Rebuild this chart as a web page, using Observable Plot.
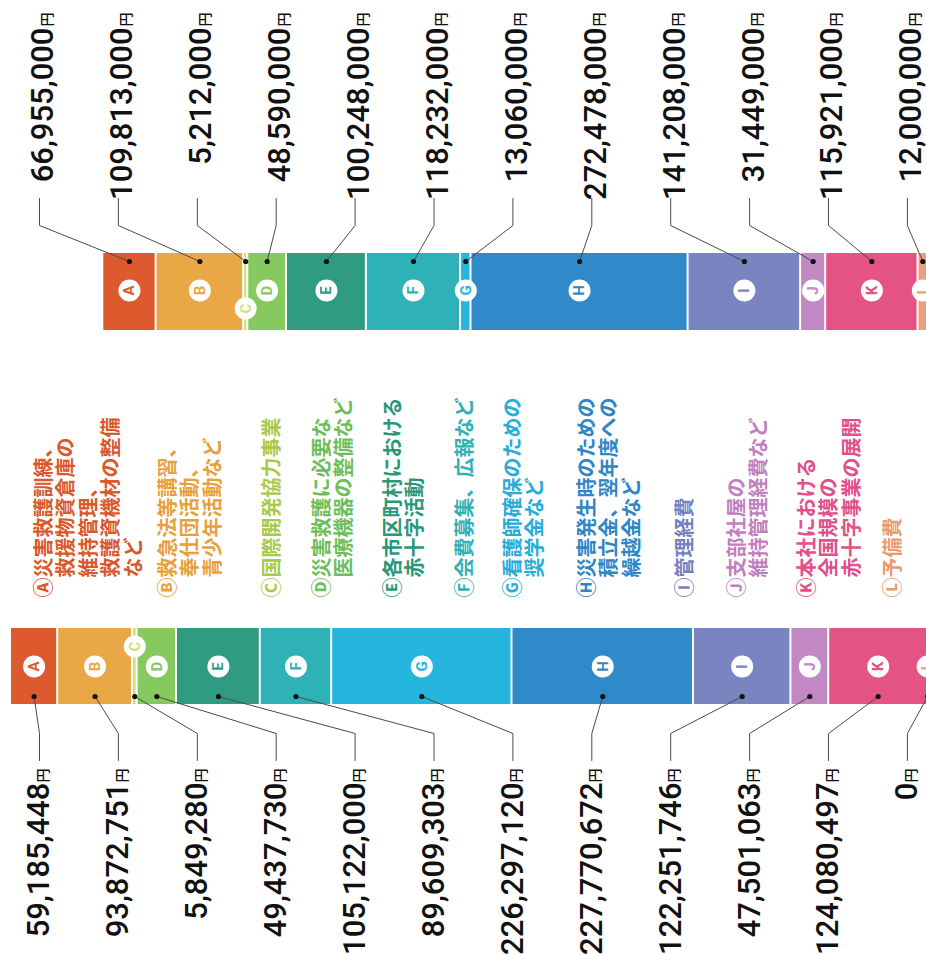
<!DOCTYPE html>
<html><head><meta charset="utf-8">
<script src="https://cdn.jsdelivr.net/npm/d3@7"></script>
<script src="https://cdn.jsdelivr.net/npm/@observablehq/plot@0.6"></script>
<style>html,body{margin:0;padding:0;background:#fff;} svg{display:block}</style>
</head><body><div id="chart"></div>
<script>
// ---- data ----
const letters = ["A","B","C","D","E","F","G","H","I","J","K","L"];
const budget = [66955000, 109813000, 5212000, 48590000, 100248000, 118232000, 13060000, 272478000, 141208000, 31449000, 115921000, 12000000];
const actual = [59185448, 93872751, 5849280, 49437730, 105122000, 89609303, 226297120, 227770672, 122251746, 47501063, 124080497, 0];
const descriptions = [
  ["災害救護訓練、", "救援物資倉庫の", "維持管理、", "救護資機材の整備", "など"],
  ["救急法等講習、", "奉仕団活動、", "青少年活動など"],
  ["国際開発協力事業"],
  ["災害救護に必要な", "医療機器の整備など"],
  ["各市区町村における", "赤十字活動"],
  ["会費募集、広報など"],
  ["看護師確保のための", "奨学金など"],
  ["災害発生時のための", "積立金、翌年度への", "繰越金など"],
  ["管理経費"],
  ["支部社屋の", "維持管理経費など"],
  ["本社における", "全国規模の", "赤十字事業の展開"],
  ["予備費"]
];
const barColors = ["#dc5a2e","#eaa745","#cfe07a","#86c95e","#2f9b80","#2fb1b8","#25b6de","#3089c8","#7a84c0","#c288c4","#e35484","#ec9f7c"];
const textColors = ["#d9582c","#e8a03a","#a9c94a","#6cbe5a","#2b977a","#33b0b6","#28acd8","#2e86c6","#7680bf","#c27fc0","#e0508a","#ea9a6e"];

// ---- layout (pixels) ----
const W = 926, H = 954;
const yenPerPx = 1.255e6;
const barStartPx = 10;
const pxToX = px => (px - barStartPx) * yenPerPx;
const layout = {
  top:    {y1: 253, y2: 330, dotY: 261, circleY: 290, elbowY: 225, lineEndY: 198, yenY: 12,  numY: 27,  labelDx: 4, cShift: 18},
  bottom: {y1: 628, y2: 704, dotY: 696, circleY: 666, elbowY: 733, lineEndY: 760, yenY: 768, numY: 782, labelDx: 0, cShift: -20},
  slot0: 39, slotStep: 78.9,
  legendX: [44, 168, 272, 322, 393, 465, 513, 587, 685, 737, 807, 893],
  legendStep: 22.5, legendY: 597
};

// ---- derived tables ----
const end = Math.max(d3.sum(budget), d3.sum(actual));
function segs(values, row) {
  let cum = end - d3.sum(values);
  return values.map((v, i) => {
    const x1 = cum; cum += v;
    return {row, i, letter: letters[i], value: v, x1, x2: cum, mid: (x1 + cum) / 2, color: barColors[i]};
  });
}
const segments = [...segs(budget, "top"), ...segs(actual, "bottom")];
const slotX = i => pxToX(layout.slot0 + layout.slotStep * i);

const leaderPts = [];
for (const s of segments) {
  const L = layout[s.row], key = s.row + s.letter;
  const pts = s.row === "top"
    ? [[slotX(s.i), L.lineEndY], [slotX(s.i), L.elbowY], [s.mid, L.dotY]]
    : [[s.mid, L.dotY], [slotX(s.i), L.elbowY], [slotX(s.i), L.lineEndY]];
  for (const [x, y] of pts) leaderPts.push({key, x, y});
}

const legendLines = [];
descriptions.forEach((lines, i) => {
  lines.forEach((t, j) => {
    const prefix = j === 0 ? String.fromCharCode(0x24B6 + i) : "\u3000";
    legendLines.push({i, text: prefix + t, x: pxToX(layout.legendX[i] + j * layout.legendStep)});
  });
});

const fmt = d3.format(",");
const numFont = "Roboto, 'Noto Sans', sans-serif";
const jpFont = "'Noto Sans CJK JP', 'Noto Sans', sans-serif";
const circY = s => layout[s.row].circleY + (s.letter === "C" ? layout[s.row].cShift : 0);

const chart = Plot.plot({
  width: W, height: H,
  marginTop: 0, marginBottom: 0, marginLeft: 0, marginRight: 0,
  x: {domain: [pxToX(0), pxToX(W)], range: [0, W], axis: null},
  y: {domain: [0, H], range: [0, H], axis: null},
  color: {type: "identity"},
  style: {background: "#fff"},
  marks: [
    Plot.rect(segments.filter(s => s.value > 0), {
      x1: "x1", x2: "x2", y1: s => layout[s.row].y1, y2: s => layout[s.row].y2,
      fill: "color", insetLeft: 1, insetRight: 1
    }),
    Plot.line(leaderPts, {x: "x", y: "y", z: "key", stroke: "#4a4a4a", strokeWidth: 1}),
    Plot.dot(segments, {x: "mid", y: s => layout[s.row].dotY, r: 2.6, fill: "#111"}),
    Plot.dot(segments, {x: "mid", y: circY, r: 11, fill: "#fff"}),
    Plot.text(segments, {x: "mid", y: circY, text: "letter", rotate: -90, fill: "color",
      fontSize: 15, fontWeight: 700, fontFamily: numFont}),
    // value labels
    Plot.text(segments, {x: s => slotX(s.i) + layout[s.row].labelDx * yenPerPx, y: s => layout[s.row].numY,
      text: s => fmt(s.value), rotate: -90, textAnchor: "end", fill: "#111",
      fontSize: 31, fontWeight: 500, fontFamily: numFont}),
    Plot.text(segments, {x: s => slotX(s.i) + (layout[s.row].labelDx + 4) * yenPerPx, y: s => layout[s.row].yenY,
      text: () => "円", rotate: -90, textAnchor: "end", fill: "#111",
      fontSize: 14, fontWeight: 500, fontFamily: jpFont}),
    // legend
    Plot.text(legendLines, {x: "x", y: layout.legendY, text: "text", rotate: -90, textAnchor: "start",
      fill: d => textColors[d.i], fontSize: 20, fontWeight: 700, fontFamily: jpFont,
      letterSpacing: 2.5})
  ]
});
document.getElementById("chart").appendChild(chart);
</script>
</body></html>
